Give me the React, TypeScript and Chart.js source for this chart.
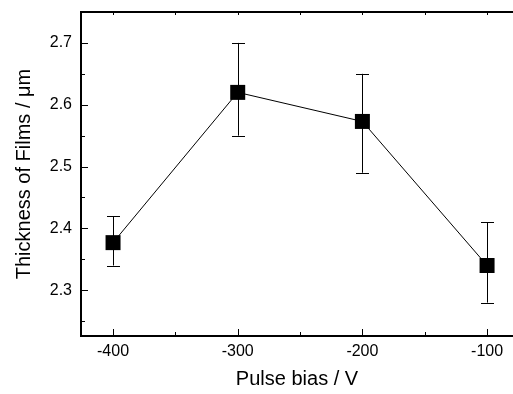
import React, { useEffect, useRef } from "react";
import { Chart, registerables } from "chart.js";

Chart.register(...registerables);

const biasValues = [-400, -300, -200, -100];
const thickness = [2.377, 2.62, 2.573, 2.34];
const errorUpper = [2.42, 2.7, 2.65, 2.41];
const errorLower = [2.34, 2.55, 2.49, 2.28];

const xMajorTicks = [-400, -300, -200, -100];
const xMinorTicks = [-350, -250, -150];
const yMajorTicks = [2.3, 2.4, 2.5, 2.6, 2.7];
const yMinorTicks = [2.25, 2.35, 2.45, 2.55, 2.65, 2.75];

const xRange = [-425.7, -79.2];
const yRange = [2.226, 2.75];

const FONT = '"Liberation Sans", Arial, Helvetica, sans-serif';

const framePlugin = {
  id: "framePlugin",
  beforeDatasetsDraw(chart: any) {
    const { ctx, scales } = chart;
    const xs = scales.x;
    const ys = scales.y;
    ctx.save();
    ctx.strokeStyle = "#000";
    ctx.lineWidth = 1;
    const cap = 6.5;
    for (let i = 0; i < biasValues.length; i++) {
      const px = Math.round(xs.getPixelForValue(biasValues[i])) + 0.5;
      const pt = ys.getPixelForValue(errorUpper[i]);
      const pb = ys.getPixelForValue(errorLower[i]);
      ctx.beginPath();
      ctx.moveTo(px, pt);
      ctx.lineTo(px, pb);
      ctx.moveTo(px - cap, Math.round(pt) + 0.5);
      ctx.lineTo(px + cap, Math.round(pt) + 0.5);
      ctx.moveTo(px - cap, Math.round(pb) + 0.5);
      ctx.lineTo(px + cap, Math.round(pb) + 0.5);
      ctx.stroke();
    }
    ctx.restore();
  },
  afterDraw(chart: any) {
    const { ctx, chartArea, scales } = chart;
    const xs = scales.x;
    const ys = scales.y;
    const { left, right, top, bottom } = chartArea;
    ctx.save();
    ctx.strokeStyle = "#000";
    ctx.lineWidth = 2;
    ctx.beginPath();
    ctx.moveTo(left, top);
    ctx.lineTo(right, top);
    ctx.moveTo(left, top - 1);
    ctx.lineTo(left, bottom + 1);
    ctx.moveTo(left - 1, bottom);
    ctx.lineTo(right, bottom);
    ctx.stroke();

    ctx.lineWidth = 1;
    ctx.beginPath();
    const major = 7;
    const minor = 4;
    const topLen = 3;
    const drawX = (v: number, len: number) => {
      const px = Math.round(xs.getPixelForValue(v)) + 0.5;
      ctx.moveTo(px, bottom);
      ctx.lineTo(px, bottom - len);
      ctx.moveTo(px, top);
      ctx.lineTo(px, top + topLen);
    };
    xMajorTicks.forEach((v) => drawX(v, major));
    xMinorTicks.forEach((v) => drawX(v, minor));
    const drawY = (v: number, len: number) => {
      const py = Math.round(ys.getPixelForValue(v)) + 0.5;
      ctx.moveTo(left, py);
      ctx.lineTo(left + len, py);
    };
    yMajorTicks.forEach((v) => drawY(v, major));
    yMinorTicks.forEach((v) => drawY(v, minor));
    ctx.stroke();
    ctx.restore();
  },
};

const zeroPadding = (scale: any) => {
  scale.paddingTop = 0;
  scale.paddingBottom = 0;
  scale.paddingLeft = 0;
  scale.paddingRight = 0;
};

export default function App() {
  const canvasRef = useRef<HTMLCanvasElement | null>(null);

  useEffect(() => {
    const canvas = canvasRef.current;
    if (!canvas) return;
    const chart = new Chart(canvas, {
      type: "line",
      data: {
        datasets: [
          {
            label: "Thickness",
            data: biasValues.map((x, i) => ({ x, y: thickness[i] })),
            borderColor: "#000",
            borderWidth: 1,
            backgroundColor: "#000",
            pointStyle: "rect",
            pointRadius: 10.6,
            pointBorderWidth: 0,
            pointBackgroundColor: "#000",
            pointBorderColor: "#000",
            tension: 0,
          },
        ],
      },
      options: {
        animation: false,
        responsive: false,
        devicePixelRatio: 1,
        layout: { autoPadding: false, padding: { top: 12, right: 0, left: 0, bottom: 0 } },
        plugins: {
          legend: { display: false },
          tooltip: { enabled: false },
        },
        scales: {
          x: {
            type: "linear",
            min: xRange[0],
            max: xRange[1],
            afterFit: (scale: any) => {
              scale.height = 58;
              zeroPadding(scale);
            },
            grid: { display: false, drawTicks: false },
            border: { display: false },
            ticks: {
              stepSize: 100,
              includeBounds: false,
              autoSkip: false,
              maxRotation: 0,
              padding: 6,
              color: "#000",
              font: { family: FONT, size: 16 },
              callback: (v: any) => (xMajorTicks.includes(Number(v)) ? String(v) : ""),
            },
            title: {
              display: true,
              text: "Pulse bias / V",
              color: "#000",
              font: { family: FONT, size: 20 },
              padding: { top: 0, bottom: 3 },
            },
          },
          y: {
            type: "linear",
            min: yRange[0],
            max: yRange[1],
            afterFit: (scale: any) => {
              scale.width = 81;
              zeroPadding(scale);
            },
            grid: { display: false, drawTicks: false },
            border: { display: false },
            ticks: {
              stepSize: 0.1,
              includeBounds: false,
              autoSkip: false,
              padding: 9,
              color: "#000",
              font: { family: FONT, size: 16 },
              callback: (v: any) => {
                const n = Math.round(Number(v) * 10) / 10;
                return yMajorTicks.some((t) => Math.abs(t - Number(v)) < 1e-6) ? n.toFixed(1) : "";
              },
            },
            title: {
              display: true,
              text: "Thickness of Films / μm",
              color: "#000",
              font: { family: FONT, size: 20 },
              padding: { top: 12, bottom: 0 },
            },
          },
        },
      },
      plugins: [framePlugin],
    });
    return () => chart.destroy();
  }, []);

  return (
    <div style={{ position: "fixed", left: 0, top: 0, width: 513, height: 394, background: "#fff" }}>
      <canvas ref={canvasRef} width={513} height={394} style={{ width: 513, height: 394, display: "block" }} />
    </div>
  );
}
